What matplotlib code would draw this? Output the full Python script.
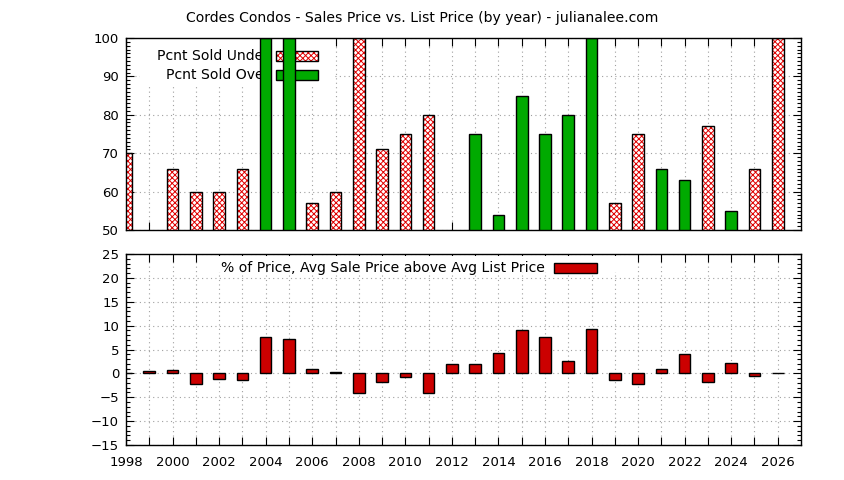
import matplotlib.pyplot as plt
from matplotlib.patches import Rectangle
from matplotlib.ticker import MultipleLocator

plt.rcParams['font.family'] = 'DejaVu Sans'
plt.rcParams['font.size'] = 9.5
plt.rcParams['hatch.linewidth'] = 0.7

years = list(range(1998, 2027))
pct_under = [70, 45, 66, 60, 60, 66, 0, 0, 57, 60, 100, 71, 75, 80, 45,
             25, 46, 15, 25, 20, 0, 57, 75, 34, 37, 77, 45, 66, 100]
pct_over = [30, 45, 34, 40, 40, 34, 100, 100, 43, 40, 0, 29, 25, 20, 45,
            75, 54, 85, 75, 80, 100, 43, 25, 66, 63, 23, 55, 34, 0]
price_diff = [0.0, 0.5, 0.7, -2.2, -1.1, -1.3, 7.7, 7.1, 1.0, 0.25, -4.2, -1.7, -0.7, -4.2, 1.9,
              1.9, 4.2, 9.0, 7.7, 2.5, 9.2, -1.3, -2.2, 1.0, 4.0, -1.7, 2.1, -0.5, 0.05]
year_labels = [str(y) if y % 2 == 0 else "" for y in years]

RED_HATCH = "#e00000"
GREEN = "#00aa00"
DARK_RED = "#cc0000"
GRID = dict(color="#a0a0a0", linestyle=(0, (1, 3)), linewidth=0.8)
KEY_FS = 10.1

fig = plt.figure(figsize=(8.44, 4.8), dpi=100)
ax1 = fig.add_axes([0.1493, 0.5208, 0.7998, 0.4])
ax2 = fig.add_axes([0.1493, 0.0729, 0.7998, 0.3979])


def hatched_bars(ax, x, h, width=0.5):
    ax.bar(x, h, width, color="white", edgecolor=RED_HATCH,
           hatch="xxxxxx", linewidth=0, zorder=3)
    ax.bar(x, h, width, fill=False, edgecolor="black", linewidth=1, zorder=4)


def style_axes(ax):
    ax.set_xlim(1998, 2027)
    ax.set_xticks(years)
    ax.tick_params(which="both", direction="in", top=True, right=True, width=0.8)
    ax.tick_params(which="major", length=6, pad=5)
    ax.tick_params(which="minor", length=3)
    ax.tick_params(axis="x", pad=8)
    ax.grid(True, zorder=0, **GRID)
    ax.set_axisbelow(True)
    for s in ax.spines.values():
        s.set_linewidth(1)
        s.set_zorder(6)


# top panel
style_axes(ax1)
hatched_bars(ax1, years, pct_under)
ax1.bar(years, pct_over, 0.5, color=GREEN, edgecolor="black", linewidth=1, zorder=4)
ax1.set_ylim(50, 100)
ax1.yaxis.set_major_locator(MultipleLocator(10))
ax1.yaxis.set_minor_locator(MultipleLocator(1))
ax1.set_xticklabels([""] * len(years))

# key (drawn under the bars, as in the original)
ax1.add_patch(Rectangle((0.02, 0.76), 0.29, 0.24, transform=ax1.transAxes,
                        facecolor="white", edgecolor="none", zorder=1))
ax1.text(0.212, 0.906, "Pcnt Sold Under", transform=ax1.transAxes,
         ha="right", va="center", zorder=2, fontsize=KEY_FS)
ax1.text(0.212, 0.807, "Pcnt Sold Over", transform=ax1.transAxes,
         ha="right", va="center", zorder=2, fontsize=KEY_FS)
ax1.add_patch(Rectangle((0.222, 0.880), 0.063, 0.052, transform=ax1.transAxes,
                        facecolor="white", edgecolor=RED_HATCH, hatch="xxxxxx",
                        linewidth=0, zorder=2))
ax1.add_patch(Rectangle((0.222, 0.880), 0.063, 0.052, transform=ax1.transAxes,
                        fill=False, edgecolor="black", linewidth=1, zorder=2))
ax1.add_patch(Rectangle((0.222, 0.781), 0.063, 0.052, transform=ax1.transAxes,
                        facecolor=GREEN, edgecolor="black", linewidth=1, zorder=2))

fig.text(0.5, 0.962, "Cordes Condos - Sales Price vs. List Price (by year) - julianalee.com",
         ha="center", va="center", fontsize=KEY_FS)

# bottom panel
style_axes(ax2)
ax2.bar(years, price_diff, 0.5, color=DARK_RED, edgecolor="black", linewidth=1, zorder=4)
ax2.set_ylim(-15, 25)
ax2.yaxis.set_major_locator(MultipleLocator(5))
ax2.yaxis.set_minor_locator(MultipleLocator(1))
ax2.set_xticklabels(year_labels)

ax2.add_patch(Rectangle((0.115, 0.905), 0.63, 0.085, transform=ax2.transAxes,
                        facecolor="white", edgecolor="none", zorder=1))
ax2.text(0.621, 0.927, "% of Price, Avg Sale Price above Avg List Price",
         transform=ax2.transAxes, ha="right", va="center", zorder=2, fontsize=KEY_FS)
ax2.add_patch(Rectangle((0.634, 0.9), 0.064, 0.055, transform=ax2.transAxes,
                        facecolor=DARK_RED, edgecolor="black", linewidth=1, zorder=2))

fig.savefig("out.png", dpi=100)
